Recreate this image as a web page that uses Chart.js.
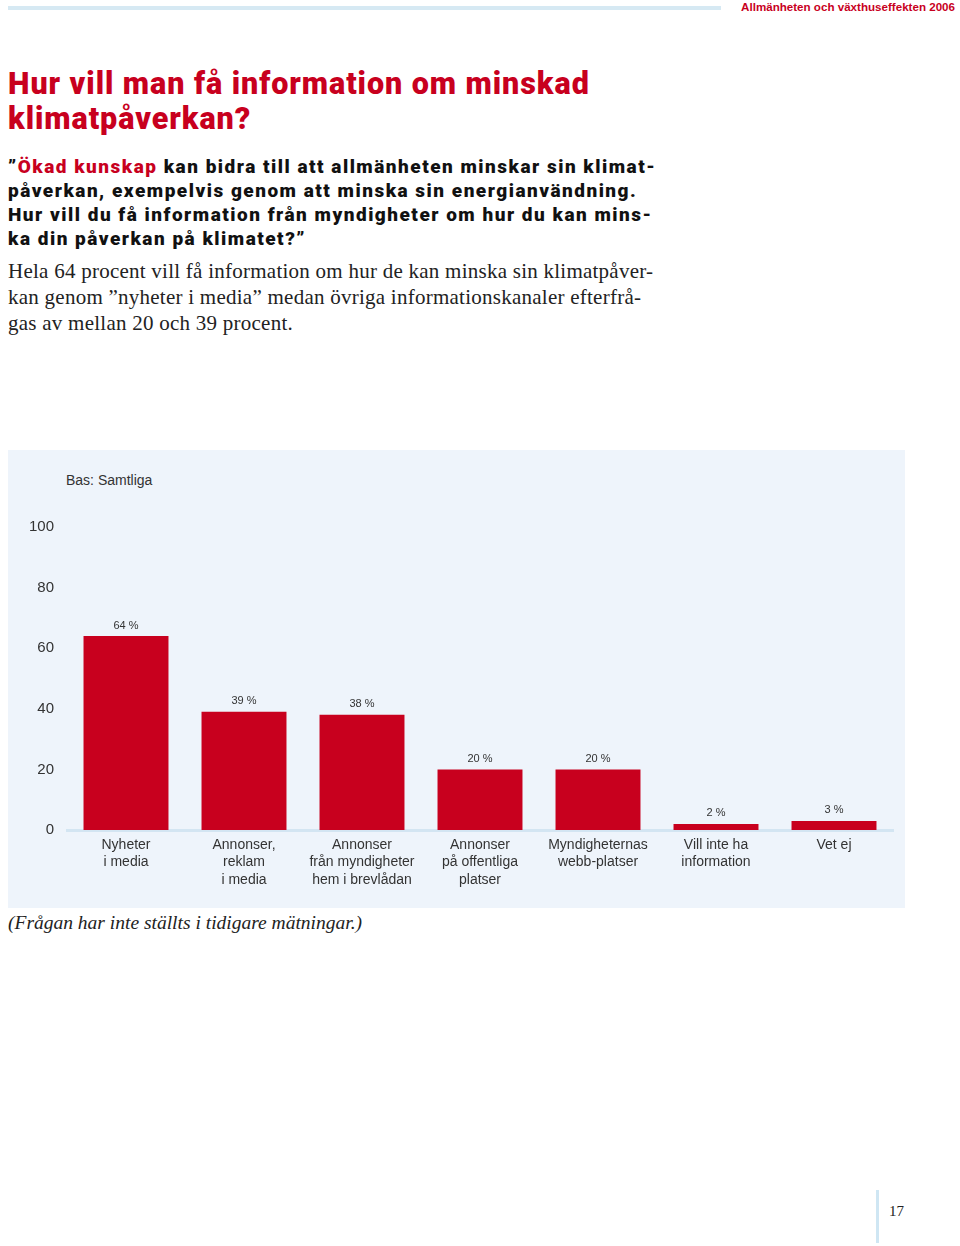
<!DOCTYPE html>
<html lang="sv">
<head>
<meta charset="utf-8">
<script src="https://cdn.jsdelivr.net/npm/chart.js@4/dist/chart.umd.min.js"></script>
<style>
  html, body { margin: 0; padding: 0; background: #fff; }
  body { width: 960px; height: 1246px; position: relative; overflow: hidden; }
  .topline { position: absolute; left: 8px; top: 6px; width: 713px; height: 4px; background: #d6e9f3; }
  .running { position: absolute; right: 5px; top: 0px; font: bold 11.6px "Liberation Sans Narrow", "Liberation Sans", sans-serif; color: #c8001e; }
  h1 { position: absolute; left: 8px; top: 66px; margin: 0; font: 900 30.5px/35px Roboto, sans-serif; color: #c8001e; letter-spacing: 0.95px; }
  .question { position: absolute; left: 8px; top: 155px; margin: 0; font: 900 19px/24px Roboto, sans-serif; color: #111; letter-spacing: 1.5px; }
  .question .red { color: #c8001e; }
  .body { position: absolute; left: 8px; top: 258px; margin: 0; font: 21px/26px "Liberation Serif", serif; color: #222; letter-spacing: 0.25px; }
  .panel { position: absolute; left: 8px; top: 450px; width: 897px; height: 458px; background: #eef4fb; }
  .bas { position: absolute; left: 58px; top: 22px; font: 14px "Liberation Sans Narrow", "Liberation Sans", sans-serif; color: #333; }
  canvas { position: absolute; left: 0; top: 0; }
  .note { position: absolute; left: 8px; top: 912px; font: italic 19.5px "Liberation Serif", serif; color: #222; }
  .pageline { position: absolute; left: 876px; top: 1190px; width: 3px; height: 53px; background: #cfe6f3; }
  .pagenum { position: absolute; left: 889px; top: 1203px; font: 15px "Liberation Serif", serif; color: #222; }
</style>
</head>
<body>
<div class="topline"></div>
<div class="running">Allmänheten och växthuseffekten 2006</div>
<h1>Hur vill man få information om minskad<br>klimatpåverkan?</h1>
<p class="question">”<span class="red">Ökad kunskap</span> kan bidra till att allmänheten minskar sin klimat-<br>påverkan, exempelvis genom att minska sin energianvändning.<br>Hur vill du få information från myndigheter om hur du kan mins-<br>ka din påverkan på klimatet?”</p>
<p class="body">Hela 64 procent vill få information om hur de kan minska sin klimatpåver-<br>kan genom ”nyheter i media” medan övriga informationskanaler efterfrå-<br>gas av mellan 20 och 39 procent.</p>
<div class="panel">
  <div class="bas">Bas: Samtliga</div>
  <canvas id="chart" width="897" height="458"></canvas>
</div>
<div class="note">(Frågan har inte ställts i tidigare mätningar.)</div>
<div class="pageline"></div>
<div class="pagenum">17</div>
<script>
const categories = [
  ['Nyheter', 'i media'],
  ['Annonser,', 'reklam', 'i media'],
  ['Annonser', 'från myndigheter', 'hem i brevlådan'],
  ['Annonser', 'på offentliga', 'platser'],
  ['Myndigheternas', 'webb-platser'],
  ['Vill inte ha', 'information'],
  ['Vet ej']
];
const values = [64, 39, 38, 20, 20, 2, 3];
const yTicks = [0, 20, 40, 60, 80, 100];

const barRed = '#c8001e';
const labelFont = '"Liberation Sans Narrow", "Liberation Sans", sans-serif';

// draws "64 %" etc above each bar
const valueLabels = {
  id: 'valueLabels',
  afterDatasetsDraw(chart) {
    const ctx = chart.ctx;
    const meta = chart.getDatasetMeta(0);
    ctx.save();
    ctx.font = '11px ' + labelFont;
    ctx.fillStyle = '#333';
    ctx.textAlign = 'center';
    ctx.textBaseline = 'bottom';
    meta.data.forEach((bar, i) => {
      ctx.fillText(values[i] + ' %', bar.x, bar.y - 5);
    });
    ctx.restore();
  }
};

new Chart(document.getElementById('chart'), {
  type: 'bar',
  data: {
    labels: categories,
    datasets: [{
      data: values,
      backgroundColor: barRed,
      borderWidth: 0,
      barPercentage: 0.72,
      categoryPercentage: 1
    }]
  },
  options: {
    responsive: false,
    animation: false,
    events: [],
    layout: { padding: { top: 77, right: 12, left: 0, bottom: 0 } },
    plugins: {
      legend: { display: false },
      tooltip: { enabled: false }
    },
    scales: {
      x: {
        grid: { display: false, drawTicks: false },
        border: { display: true, color: '#d3e5f2', width: 3 },
        ticks: {
          color: '#333',
          padding: 7,
          maxRotation: 0,
          autoSkip: false,
          font: { family: labelFont, size: 14, lineHeight: 1.22 }
        },
        afterFit(scale) { scale.height = 78; }
      },
      y: {
        min: 0,
        max: 100,
        grid: { display: false, drawTicks: false },
        border: { display: false },
        afterBuildTicks(scale) { scale.ticks = yTicks.map(v => ({ value: v })); },
        ticks: {
          color: '#333',
          padding: 13,
          font: { family: labelFont, size: 15 }
        },
        afterFit(scale) { scale.width = 59; }
      }
    }
  },
  plugins: [valueLabels]
});
</script>
</body>
</html>
